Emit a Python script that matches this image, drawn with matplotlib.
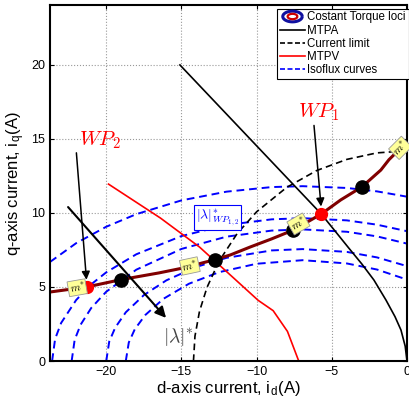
import matplotlib
matplotlib.use("Agg")
import matplotlib.pyplot as plt
from matplotlib.lines import Line2D
from matplotlib.path import Path
import numpy as np

plt.rcParams['font.family'] = ['Liberation Sans', 'DejaVu Sans']
plt.rcParams['mathtext.fontset'] = 'cm'

# constant torque locus
torque_id = [-23.74, -21.3, -19.0, -16.5, -14.9, -12.77, -11.76, -10.43, -9.0, -7.55,
             -5.7, -4.41, -3.0, -1.74, -1.2, -0.6, -0.3]
torque_iq = [4.66, 5.0, 5.5, 5.95, 6.28, 6.85, 7.16, 7.7, 8.25, 8.85,
             9.93, 10.88, 11.76, 12.9, 13.6, 14.2, 14.6]

# operating points on the torque locus
black_id = [-19.0, -12.77, -7.55, -3.0]
black_iq = [5.5, 6.85, 8.85, 11.76]
wp_id = [-21.3, -5.7]
wp_iq = [5.0, 9.93]

# MTPA
mtpa_id = [-15.1, -5.7, -4.8, -3.88, -3.0, -2.2, -1.4, -0.8, -0.4, -0.12, 0.0]
mtpa_iq = [20.0, 9.93, 8.8, 7.64, 6.55, 5.47, 4.12, 3.0, 2.09, 1.0, 0.0]

# current limit
clim_id = [-14.2, -14.1, -13.8, -13.3, -12.5, -11.3, -10.0, -8.0, -6.0, -4.0, -2.0, 0.0]
clim_iq = [0.0, 1.68, 3.35, 4.97, 6.74, 8.60, 10.08, 11.73, 12.87, 13.62, 14.06, 14.2]

# MTPV
mtpv_id = [-19.85, -16.4, -13.8, -11.5, -9.9, -8.9, -7.95, -7.2]
mtpv_iq = [11.95, 9.66, 7.7, 5.58, 4.1, 3.4, 2.0, 0.0]

# isoflux curves
flux_a_id = [-23.74, -22, -20, -18, -15, -12, -9, -6.94, -4, -2, 0]
flux_a_iq = [6.69, 7.96, 9.07, 9.92, 10.85, 11.44, 11.75, 11.81, 11.69, 11.46, 11.10]
flux_b_id = [-23.6, -23.4, -23, -22, -21, -20, -18, -15, -12, -9, -6.94, -4, -2, 0]
flux_b_iq = [0, 1.49, 2.57, 4.12, 5.18, 5.99, 7.21, 8.44, 9.19, 9.57, 9.65, 9.50, 9.21, 8.77]
flux_c_id = [-22.3, -22.1, -21.7, -21, -20, -18, -15, -12, -9, -6.94, -4, -2, 0]
flux_c_iq = [0, 1.43, 2.46, 3.58, 4.68, 6.17, 7.57, 8.40, 8.81, 8.89, 8.73, 8.42, 7.93]
flux_d_id = [-20, -19.8, -19.4, -18.7, -17.5, -16, -14, -12, -9, -6.94, -4, -2, 0]
flux_d_iq = [0, 1.32, 2.26, 3.29, 4.45, 5.45, 6.36, 6.97, 7.47, 7.56, 7.37, 7.00, 6.41]
flux_e_id = [-18.7, -18.5, -18.1, -17.4, -16.2, -14.5, -12.5, -10, -6.94, -4, -2, 0]
flux_e_iq = [0, 1.25, 2.15, 3.11, 4.20, 5.22, 6.00, 6.57, 6.81, 6.59, 6.18, 5.50]

# m* tags along the torque locus
tag_id = [-21.93, -14.44, -7.22, -0.45]
tag_iq = [4.95, 6.42, 9.26, 14.4]
tag_rot = [10, 12, 30, 45]

xticks = [-20, -15, -10, -5, 0]
yticks = [0, 5, 10, 15, 20]

fig = plt.figure(figsize=(4.09, 4.01), dpi=100)
ax = fig.add_axes([50/409, 40/401, 357/409, 356/401])

for fx, fy in [(flux_a_id, flux_a_iq), (flux_b_id, flux_b_iq), (flux_c_id, flux_c_iq),
               (flux_d_id, flux_d_iq), (flux_e_id, flux_e_iq)]:
    ax.plot(fx, fy, color='blue', ls=(0, (4, 2.5)), lw=1.4)

ax.plot(clim_id, clim_iq, color='black', ls=(0, (4, 2.5)), lw=1.2)
ax.plot(mtpv_id, mtpv_iq, color='red', lw=1.2)
ax.plot(mtpa_id, mtpa_iq, color='black', lw=1.2)
ax.plot(torque_id, torque_iq, color='#800000', lw=2.2)
ax.plot(black_id, black_iq, 'o', color='black', ms=9.5)
ax.plot(wp_id, wp_iq, 'o', color='red', ms=8.5)

for x, y, r in zip(tag_id, tag_iq, tag_rot):
    ax.text(x, y, r'$m^{*}$', fontsize=8, rotation=r, ha='center', va='center',
            bbox=dict(boxstyle='square,pad=0.1', fc='#ffff99', ec='#999999', lw=0.6))

# annotations
ax.annotate('', xy=(-21.3, 5.3), xytext=(-22.0, 14.25),
            arrowprops=dict(arrowstyle='-|>', color='black', lw=1.1, mutation_scale=12))
ax.text(-20.45, 14.9, r'$WP_2$', color='red', fontsize=15, ha='center', va='center')
ax.annotate('', xy=(-5.7, 10.25), xytext=(-6.2, 16.1),
            arrowprops=dict(arrowstyle='-|>', color='black', lw=1.1, mutation_scale=12))
ax.text(-5.9, 16.8, r'$WP_1$', color='red', fontsize=15, ha='center', va='center')
ax.annotate('', xy=(-15.9, 2.77), xytext=(-22.66, 10.54),
            arrowprops=dict(arrowstyle='-|>', color='black', lw=1.5, mutation_scale=16))
ax.text(-15.2, 1.6, r'$|\lambda|^{*}$', color='#444444', fontsize=14, ha='center', va='center')
ax.text(-12.6, 9.7, r'$|\lambda|^{*}_{WP_{1,2}}$', color='blue', fontsize=10,
        ha='center', va='center',
        bbox=dict(boxstyle='square,pad=0.15', fc='white', ec='blue', lw=0.8))

ax.set_xlim(-23.74, 0)
ax.set_ylim(0, 24.05)
ax.set_xticks(xticks)
ax.set_yticks(yticks)
ax.tick_params(direction='in', top=True, right=True, labelsize=9, length=3)
ax.grid(True, ls=':', color='#999999', lw=0.8)
for s in ax.spines.values():
    s.set_linewidth(1.5)
ax.set_xlabel(r'd-axis current, i$_\mathregular{d}$(A)', fontsize=12, labelpad=1)
ax.set_ylabel(r'q-axis current, i$_\mathregular{q}$(A)', fontsize=12, labelpad=3)

# legend with an ellipse icon for the torque loci
t = np.linspace(0, 2*np.pi, 60)
ell = Path(np.column_stack([np.cos(t), 0.55*np.sin(t)]))
h0a = Line2D([], [], ls='none', marker=ell, ms=14, mfc='white', mec='#1010a0', mew=2.2)
h0b = Line2D([], [], ls='none', marker=ell, ms=7, mfc='white', mec='#cc0000', mew=1.6)
handles = [(h0a, h0b),
           Line2D([], [], color='black', lw=1.2),
           Line2D([], [], color='black', lw=1.2, ls=(0, (3, 1.5))),
           Line2D([], [], color='red', lw=1.2),
           Line2D([], [], color='blue', lw=1.2, ls=(0, (3, 1.5)))]
labels = ['Costant Torque loci', 'MTPA', 'Current limit', 'MTPV', 'Isoflux curves']
leg = ax.legend(handles, labels, loc='upper right', bbox_to_anchor=(1.005, 0.99),
                fontsize=8.3, fancybox=False, framealpha=1, edgecolor='black',
                handlelength=2.2, handletextpad=0.2, labelspacing=0.1,
                borderpad=0.25, borderaxespad=0)
leg.get_frame().set_linewidth(0.8)

fig.savefig('out.png', dpi=100)
